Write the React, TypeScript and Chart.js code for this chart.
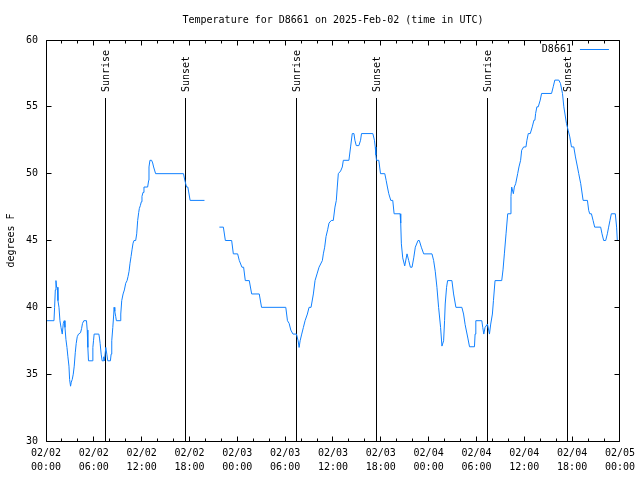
import React, { useEffect, useRef } from "react";
import { Chart, registerables } from "chart.js";

Chart.register(...registerables);

const TITLE = "Temperature for D8661 on 2025-Feb-02 (time in UTC)";
const SERIES_LABEL = "D8661";
const Y_LABEL = "degrees F";
const SUNRISE_LABEL = "Sunrise";
const SUNSET_LABEL = "Sunset";

const xTickLabels = [
  "02/02\n00:00", "02/02\n06:00", "02/02\n12:00", "02/02\n18:00",
  "02/03\n00:00", "02/03\n06:00", "02/03\n12:00", "02/03\n18:00",
  "02/04\n00:00", "02/04\n06:00", "02/04\n12:00", "02/04\n18:00",
  "02/05\n00:00",
];

// hours since 2025-02-02 00:00 UTC
const hours = [
  0.1, 1.0, 1.08, 1.17, 1.25, 1.33, 1.42, 1.5, 1.63, 1.75, 1.88, 2.04, 2.17, 2.29, 2.38, 2.5,
  2.63, 2.75, 2.88, 2.96, 3.08, 3.17, 3.29, 3.42, 3.54, 3.67, 3.79, 3.92, 4.08, 4.33, 4.46, 4.58,
  4.75, 5.08, 5.17, 5.25, 5.33, 5.79, 5.88, 5.96, 6.04, 6.63, 6.71, 6.79, 6.92, 7.04, 7.17, 7.25,
  7.33, 7.5, 7.63, 7.75, 8.08, 8.17, 8.25, 8.38, 8.5, 8.54, 8.63, 8.75, 8.83, 9.29, 9.38, 9.5,
  9.67, 9.83, 10.0, 10.17, 10.29, 10.42, 10.54, 10.67, 10.79, 10.92, 11.04, 11.25, 11.38, 11.5,
  11.63, 11.71, 11.83, 11.96, 12.04, 12.17, 12.29, 12.75, 12.88, 12.92, 13.04, 13.25, 13.38, 13.5,
  13.75, 17.25, 17.38, 17.5, 17.63, 17.79, 17.88, 18.08, 19.88,
  20.8,
  21.75, 22.25, 22.5, 23.29, 23.5, 24.04, 24.25, 24.58, 24.79, 25.0, 25.5, 25.8, 26.75, 27.04,
  30.08, 30.29, 30.5, 30.71, 30.98, 31.42, 31.63, 31.75, 31.88, 32.08, 32.29, 32.5, 32.79, 33.0,
  33.25, 33.54, 33.75, 34.0, 34.25, 34.67, 34.79, 34.96, 35.13, 35.33, 35.5, 35.79, 36.04, 36.25,
  36.42, 36.54, 36.67, 36.96, 37.17, 37.3, 38.0, 38.21, 38.42, 38.63, 38.75, 38.92, 39.25, 39.46,
  39.58, 41.0, 41.2, 41.3, 41.38, 41.46, 41.75, 41.96, 42.5, 42.67, 42.83, 43.0, 43.25, 43.5,
  43.67, 44.42, 44.5, 44.58, 44.75, 45.0, 45.29, 45.5, 45.71, 45.92, 46.13, 46.33, 46.67, 46.83,
  47.08, 47.38, 48.42, 48.63, 48.83, 49.04, 49.25, 49.5, 49.67, 49.88, 50.0, 50.08, 50.25, 50.38,
  50.92, 51.13, 51.42, 52.17, 52.38, 52.58, 52.92, 53.13, 53.75, 53.83, 53.92, 54.67, 54.79, 54.92,
  55.08, 55.38, 55.63, 55.79, 56.0, 56.13, 56.33, 57.17, 57.33, 57.5, 57.71, 57.92, 58.21, 58.33,
  58.42, 58.63, 58.75, 58.92, 59.17, 59.33, 59.54, 59.67, 59.92, 60.21, 60.33, 60.5, 60.75, 61.0,
  61.21, 61.33, 61.42, 61.58, 61.75, 62.0, 62.17, 63.42, 63.63, 63.83, 64.33, 64.54, 64.79, 64.96,
  65.29, 65.5, 65.71, 65.92, 66.21, 66.42, 66.67, 66.83, 67.08, 67.38, 67.92, 68.08, 68.21, 68.42,
  68.63, 68.83, 69.58, 69.75, 69.96, 70.21, 70.42, 70.58, 70.75, 70.92, 71.42, 71.58, 71.67,
];

const tempsF = [
  39, 39, 40, 41.3, 42, 41.5, 41.5, 40.5, 40, 39, 38.5, 38, 38.8, 39, 38.5, 37.6,
  37, 36.3, 35.6, 34.6, 34.1, 34.4, 34.6, 35, 35.6, 36.6, 37.3, 37.8, 38, 38.1, 38.4, 38.8,
  39, 39, 38.3, 37, 36, 36, 37, 37.5, 38, 38, 37.7, 37.3, 36.5, 36, 36, 36.3,
  36, 37, 36.5, 36, 36, 36.5, 37.5, 38.5, 39.5, 40, 39.7, 39.3, 39, 39, 39.5, 40.5,
  41, 41.3, 41.8, 42, 42.3, 42.7, 43.3, 43.8, 44.3, 44.8, 45, 45, 45.5, 46.5,
  47.1, 47.4, 47.6, 47.9, 48.3, 48.6, 49, 49, 49.5, 50.5, 51, 51, 50.8, 50.5,
  50, 50, 49.6, 49.3, 49, 49, 48.7, 48, 48,
  null,
  46, 46, 45, 45, 44, 44, 43.5, 43, 43, 42, 42, 41, 41, 40,
  40, 39, 38.8, 38.3, 38, 38, 37.5, 37, 37.5, 38, 38.5, 39, 39.5, 40,
  40, 41, 42, 42.5, 43, 43.5, 44, 44.5, 45.3, 45.8, 46.3, 46.5, 46.5, 47.5,
  48, 49, 50, 50.2, 50.5, 51, 51, 52, 53, 53, 52.5, 52.1, 52.1, 52.5,
  53, 53, 52.5, 52, 51.4, 51, 51, 50, 50, 49.5, 49, 48.5, 48, 48,
  47, 47, 46.3, 44.75, 43.7, 43.1, 44, 43.5, 43, 43, 43.7, 44.5, 45, 45,
  44.5, 44, 44, 43.5, 42.7, 41.5, 40, 38.5, 37.1, 37.5, 39, 40.25, 41.5, 42,
  42, 41, 40, 40, 39.5, 38.7, 37.7, 37.05, 37.05, 38, 39, 39, 38.5, 38,
  38.5, 38.75, 38, 38.75, 39.5, 40.5, 42, 42, 42.8, 44, 45.5, 47, 47, 48.3,
  49, 48.5, 49, 49.25, 50, 50.5, 51, 51.75, 52, 52, 52.5, 53, 53, 53.5,
  54, 54, 54.5, 55, 55, 55.5, 56, 56, 56.5, 57, 57, 56.75, 56, 55,
  53.75, 53.25, 52.75, 52, 52, 51.25, 50.5, 50, 49.25, 48, 48, 47.25, 47, 47,
  46.5, 46, 46, 45.5, 45, 45, 45.5, 46, 46.5, 47, 47, 46, 45,
];

const sunriseHours = [7.42, 31.42, 55.42];
const sunsetHours = [17.53, 41.42, 65.42];

const X_MIN = 0;
const X_MAX = 72;
const X_STEP = 6;
const X_MINOR_STEP = 2;
const Y_MIN = 30;
const Y_MAX = 60;
const Y_STEP = 5;

const FONT_FAMILY = "'DejaVu Sans Mono', monospace";
const LINE_COLOR = "rgb(16,128,255)";

const overlayPlugin = {
  id: "gnuplotOverlay",
  beforeDatasetsDraw(chart: any) {
    const { ctx, chartArea, scales } = chart;
    const x = scales.x;
    ctx.save();
    ctx.strokeStyle = "#000";
    ctx.fillStyle = "#000";
    ctx.lineWidth = 1;
    ctx.font = `10px ${FONT_FAMILY}`;
    const drawSun = (h: number, label: string) => {
      const px = Math.floor(x.getPixelForValue(h)) + 0.5;
      ctx.beginPath();
      ctx.moveTo(px, chartArea.top + 58);
      ctx.lineTo(px, chartArea.bottom);
      ctx.stroke();
      ctx.save();
      ctx.translate(px + 1, chartArea.top + 52);
      ctx.rotate(-Math.PI / 2);
      ctx.textAlign = "left";
      ctx.textBaseline = "middle";
      ctx.fillText(label, 0, 0);
      ctx.restore();
    };
    sunriseHours.forEach((h) => drawSun(h, SUNRISE_LABEL));
    sunsetHours.forEach((h) => drawSun(h, SUNSET_LABEL));
    ctx.restore();
  },
  afterDraw(chart: any) {
    const { ctx, chartArea, scales } = chart;
    const { left, right, top, bottom } = chartArea;
    const x = scales.x;
    const y = scales.y;
    const L = Math.floor(left) + 0.5;
    const R = Math.floor(right) + 0.5;
    const T = Math.floor(top) + 0.5;
    const B = Math.floor(bottom) + 0.5;
    ctx.save();
    ctx.strokeStyle = "#000";
    ctx.lineWidth = 1;
    ctx.beginPath();
    ctx.rect(L, T, R - L, B - T);
    ctx.stroke();
    ctx.beginPath();
    y.ticks.forEach((t: any) => {
      const py = Math.floor(y.getPixelForValue(t.value)) + 0.5;
      ctx.moveTo(L, py);
      ctx.lineTo(L + 5, py);
      ctx.moveTo(R, py);
      ctx.lineTo(R - 5, py);
    });
    for (let h = X_MIN; h <= X_MAX; h += X_MINOR_STEP) {
      const major = h % X_STEP === 0;
      const len = major ? 5 : 3;
      const px = Math.floor(x.getPixelForValue(h)) + 0.5;
      ctx.moveTo(px, B);
      ctx.lineTo(px, B - len);
      ctx.moveTo(px, T);
      ctx.lineTo(px, T + len);
    }
    ctx.stroke();
    const ds = chart.data.datasets[0];
    ctx.font = `10px ${FONT_FAMILY}`;
    ctx.fillStyle = "#000";
    ctx.textAlign = "right";
    ctx.textBaseline = "middle";
    ctx.fillText(ds.label, right - 48, top + 9);
    ctx.strokeStyle = ds.borderColor;
    ctx.beginPath();
    ctx.moveTo(right - 40, top + 9.5);
    ctx.lineTo(right - 11, top + 9.5);
    ctx.stroke();
    ctx.restore();
  },
};

export default function App() {
  const canvasRef = useRef<HTMLCanvasElement | null>(null);

  useEffect(() => {
    const canvas = canvasRef.current;
    if (!canvas) return;
    const font = { family: FONT_FAMILY, size: 10, weight: "normal" as const };
    const chart = new Chart(canvas, {
      type: "line",
      data: {
        datasets: [
          {
            label: SERIES_LABEL,
            data: hours.map((h, i) => ({ x: h, y: tempsF[i] })) as any,
            borderColor: LINE_COLOR,
            backgroundColor: LINE_COLOR,
            borderWidth: 1,
            pointRadius: 0,
            tension: 0,
            spanGaps: false,
            fill: false,
          },
        ],
      },
      options: {
        responsive: false,
        animation: false,
        devicePixelRatio: 1,
        layout: { padding: { left: 0, right: 19, top: 0, bottom: 0 } },
        plugins: {
          legend: { display: false },
          tooltip: { enabled: false },
          title: {
            display: true,
            text: TITLE,
            fullSize: false,
            color: "#000",
            font: { ...font, lineHeight: 1.2 },
            padding: { top: 14, bottom: 14 },
          },
        },
        scales: {
          x: {
            type: "linear",
            min: X_MIN,
            max: X_MAX,
            grid: { display: false, drawTicks: false },
            border: { display: false },
            afterFit: (scale: any) => {
              scale.height = 39;
            },
            ticks: {
              stepSize: X_STEP,
              autoSkip: false,
              maxRotation: 0,
              minRotation: 0,
              padding: 5,
              color: "#000",
              font: { ...font, lineHeight: 1.4 },
              callback: (value: any) => {
                const lab = xTickLabels[Math.round((Number(value) - X_MIN) / X_STEP)];
                return lab ? lab.split("\n") : "";
              },
            },
          },
          y: {
            type: "linear",
            min: Y_MIN,
            max: Y_MAX,
            grid: { display: false, drawTicks: false },
            border: { display: false },
            afterFit: (scale: any) => {
              scale.width = 46;
            },
            title: {
              display: true,
              text: Y_LABEL,
              color: "#000",
              font: { ...font, lineHeight: 1.2 },
              padding: { top: 5, bottom: 0 },
            },
            ticks: {
              stepSize: Y_STEP,
              padding: 8,
              color: "#000",
              font: { ...font, lineHeight: 1.2 },
            },
          },
        },
      },
      plugins: [overlayPlugin],
    });
    return () => chart.destroy();
  }, []);

  return (
    <div
      style={{
        position: "fixed",
        left: 0,
        top: 0,
        width: 640,
        height: 480,
        background: "#fff",
      }}
    >
      <canvas ref={canvasRef} width={640} height={480} style={{ display: "block" }} />
    </div>
  );
}
